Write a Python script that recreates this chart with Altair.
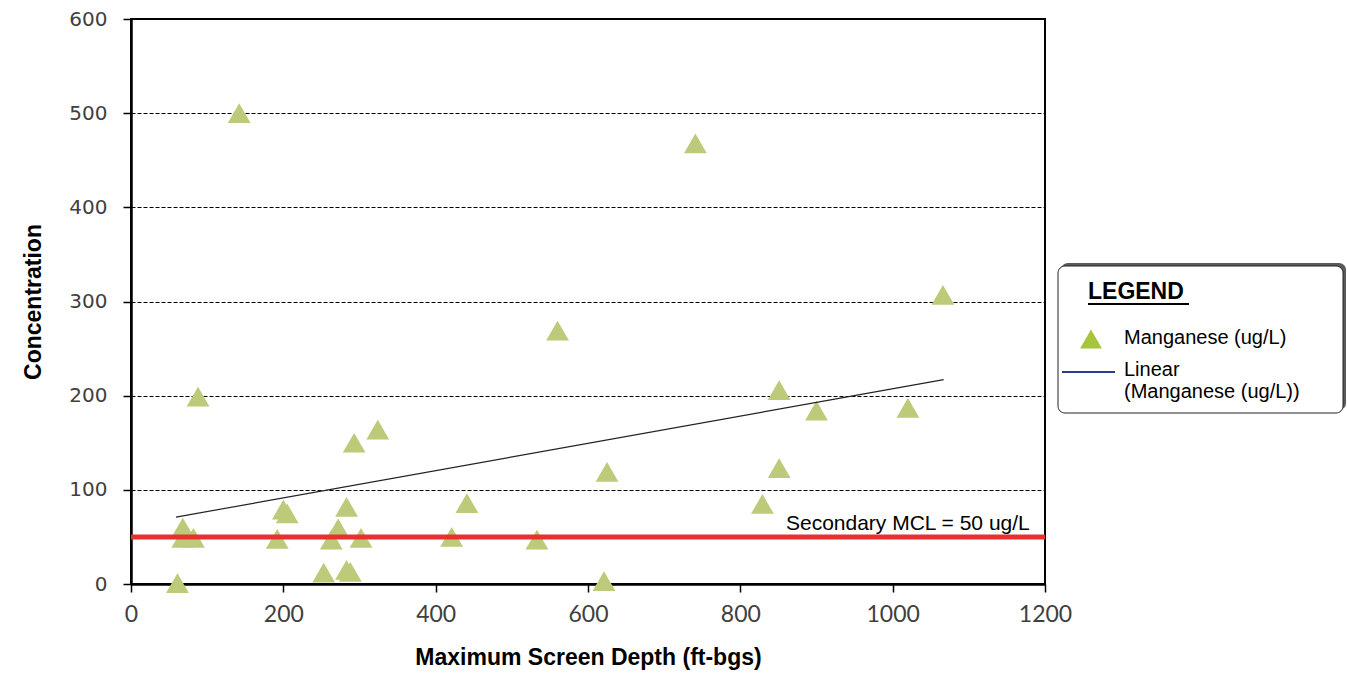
import altair as alt
import pandas as pd

# ---- data ----
depth = [142, 741, 560, 1066, 88, 851, 900, 1020, 851, 625, 829, 293, 324, 200, 205,
         283, 272, 441, 421, 533, 192, 263, 302, 621, 61, 253, 283, 288, 68, 68, 82]
conc = [500, 468, 269, 307, 199, 206, 184, 187, 123, 119, 85, 150, 164, 79, 75,
        82, 59, 86, 50, 47, 48, 47, 49, 3, 1, 12, 15, 13, 60, 49, 49]
trend_depth = [59, 1067]
trend_conc = [71, 217]
mcl_value = [50]
mcl_label = ["Secondary MCL = 50 ug/L"]
mcl_label_depth = [1180]
x_ticks = [0, 200, 400, 600, 800, 1000, 1200]
y_ticks = [0, 100, 200, 300, 400, 500, 600]
legend_title = "LEGEND"
legend_point_label = "Manganese (ug/L)"
legend_line_label = ["Linear", "(Manganese (ug/L))"]

W, H = 914, 565

pts = pd.DataFrame({"depth": depth, "conc": conc})
trend = pd.DataFrame({"depth": trend_depth, "conc": trend_conc})
mcl = pd.DataFrame({"conc": mcl_value})
mcl_txt = pd.DataFrame({"depth": mcl_label_depth, "conc": mcl_value, "label": mcl_label})
one = pd.DataFrame({"k": [0]})

xs = alt.Scale(domain=[0, 1200], nice=False, zero=False)
ys = alt.Scale(domain=[0, 600], nice=False, zero=False)

x_axis = alt.Axis(
    values=x_ticks, format="d", title="Maximum Screen Depth (ft-bgs)", grid=False,
    labelFont="Lato", labelFontSize=23, labelColor="#404040", labelPadding=11,
    labelFlush=False, labelOverlap=False,
    tickSize=8, tickColor="#000", tickWidth=1.5,
    domainColor="#000", domainWidth=2.5,
    titleFont="Liberation Sans", titleFontSize=23, titleFontWeight="bold",
    titleColor="#000", titleX=W / 2, titleY=73, titleBaseline="middle",
    titleAlign="center",
)
y_axis = alt.Axis(
    values=y_ticks, format="d", title="Concentration", grid=True,
    gridColor="#000", gridDash=[4, 2], gridWidth=1,
    labelFont="DejaVu Sans", labelFontSize=20, labelColor="#404040", labelPadding=16,
    labelFlush=False, labelOverlap=False,
    tickSize=8, tickColor="#000", tickWidth=1.5,
    domainColor="#000", domainWidth=2.5,
    titleFont="Liberation Sans", titleFontSize=23, titleFontWeight="bold",
    titleColor="#000", titleX=-98, titleY=H / 2, titleBaseline="middle",
    titleAlign="center", titleAngle=270,
)

X = lambda: alt.X("depth:Q", scale=xs, axis=x_axis)
Y = lambda: alt.Y("conc:Q", scale=ys, axis=y_axis)

points = alt.Chart(pts).mark_point(
    shape="triangle-up", filled=True, size=520, color="#BCCA79", opacity=1, strokeWidth=0
).encode(x=X(), y=Y())

trend_line = alt.Chart(trend).mark_line(color="#222", strokeWidth=1.2).encode(x=X(), y=Y())

mcl_rule = alt.Chart(mcl).mark_rule(color="#E8302F", strokeWidth=5).encode(y=Y())

mcl_text = alt.Chart(mcl_txt).mark_text(
    align="right", baseline="alphabetic", dy=-7, fontSize=21,
    font="Liberation Sans", color="#000"
).encode(x=X(), y=Y(), text="label:N")

# ---- legend box drawn outside the plot area ----
shadow = alt.Chart(one).mark_rect(cornerRadius=7, fill="#5a5a5a").encode(
    x=alt.value(930), x2=alt.value(1215), y=alt.value(244), y2=alt.value(391))
box = alt.Chart(one).mark_rect(cornerRadius=7, fill="white", stroke="#222", strokeWidth=1).encode(
    x=alt.value(927), x2=alt.value(1212), y=alt.value(247), y2=alt.value(394))
ltitle = alt.Chart(one).mark_text(
    text=legend_title, align="left", baseline="alphabetic", fontSize=23,
    fontWeight="bold", font="Liberation Sans", color="#000"
).encode(x=alt.value(957), y=alt.value(280))
underline = alt.Chart(one).mark_rule(color="#000", strokeWidth=2).encode(
    x=alt.value(957), x2=alt.value(1058), y=alt.value(285))
ltri = alt.Chart(one).mark_point(
    shape="triangle-up", filled=True, size=480, color="#A6C53C", opacity=1, strokeWidth=0
).encode(x=alt.value(960), y=alt.value(320))
ltri_label = alt.Chart(one).mark_text(
    text=legend_point_label, align="left", baseline="middle", fontSize=20,
    font="Liberation Sans", color="#000"
).encode(x=alt.value(993), y=alt.value(319))
lline = alt.Chart(one).mark_rule(color="#2E3A8C", strokeWidth=2).encode(
    x=alt.value(931), x2=alt.value(984), y=alt.value(353))
lline_label1 = alt.Chart(one).mark_text(
    text=legend_line_label[0], align="left", baseline="middle", fontSize=20,
    font="Liberation Sans", color="#000"
).encode(x=alt.value(993), y=alt.value(351))
lline_label2 = alt.Chart(one).mark_text(
    text=legend_line_label[1], align="left", baseline="middle", fontSize=20,
    font="Liberation Sans", color="#000"
).encode(x=alt.value(993), y=alt.value(373))

chart = alt.layer(
    points, trend_line, mcl_rule, mcl_text,
    shadow, box, ltitle, underline, ltri, ltri_label, lline, lline_label1, lline_label2,
).properties(
    width=W, height=H,
    autosize=alt.AutoSizeParams(type="none"),
    padding={"left": 131, "top": 19, "right": 302, "bottom": 92},
    background="white",
).configure_view(stroke="#000", strokeWidth=2)

chart.save("out.html", embed_options={"renderer": "svg", "actions": False})
